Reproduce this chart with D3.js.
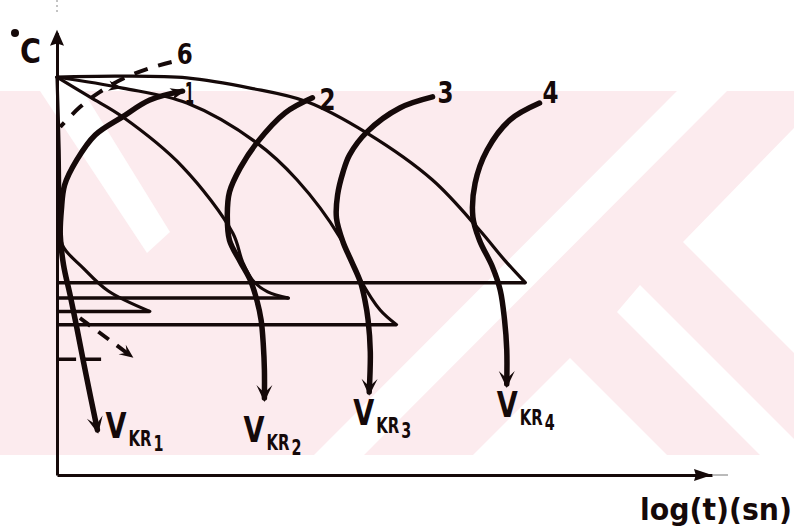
<!DOCTYPE html>
<html>
<head>
<meta charset="utf-8">
<script src="https://cdn.jsdelivr.net/npm/d3@7"></script>
<style>
  html, body { margin: 0; padding: 0; background: #ffffff; }
  svg { display: block; }
  text { font-family: "DejaVu Sans Condensed", "DejaVu Sans", sans-serif; font-weight: bold; fill: #150909; }
</style>
</head>
<body>
<svg id="chart" width="794" height="531"></svg>
<script>
// Axes: log(t) on x, temperature (°C) on y
const timeDomain = [0, 6];
const tempDomain = [0, 1000];

// Horizontal transformation lines: temperature and where each stops on the time axis
const lineTemps = [435, 400, 370, 340];
const lineEnds  = [4.29, 2.12, 0.85, 3.11];

// Cooling curves leaving the austenitising point, [log t, °C]
const cooling1 = [[0, 900], [0.58, 902], [1.19, 898], [1.77, 875], [2.29, 844], [2.84, 773], [3.44, 667], [3.87, 554], [4.10, 486], [4.29, 435]];
const cooling2 = [[0, 900], [0.60, 875], [1.19, 841], [1.83, 751], [2.20, 667], [2.59, 538], [2.78, 441], [2.96, 373], [3.11, 340]];
const cooling3 = [[0, 900], [0.30, 855], [0.60, 810], [1.15, 697], [1.61, 547], [1.70, 482], [1.79, 441], [1.93, 414], [2.12, 400]];
const cooling4 = [[0, 900], [0.02, 735], [0.03, 588], [0.05, 520], [0.24, 468], [0.47, 416], [0.85, 370]];

// Transformation start curves 1–4, each running down into its critical cooling rate arrow
const curve1 = [[1.15, 868], [0.85, 848], [0.60, 810], [0.35, 769], [0.18, 712], [0.07, 656], [0.04, 599], [0.03, 543], [0.06, 475], [0.12, 407], [0.18, 335], [0.27, 222], [0.37, 102]];
const curve2 = [[2.34, 853], [2.09, 819], [1.83, 751], [1.68, 695], [1.58, 640], [1.56, 588], [1.58, 531], [1.68, 482], [1.77, 441], [1.83, 396], [1.87, 350], [1.89, 294], [1.90, 237], [1.90, 174]];
const curve3 = [[3.44, 855], [3.14, 830], [2.84, 776], [2.68, 724], [2.62, 685], [2.57, 633], [2.56, 581], [2.62, 527], [2.70, 482], [2.78, 436], [2.82, 396], [2.85, 350], [2.87, 278], [2.86, 188]];
const curve4 = [[4.42, 841], [4.15, 803], [3.94, 735], [3.83, 660], [3.81, 583], [3.87, 531], [3.99, 470], [4.06, 418], [4.10, 350], [4.12, 283], [4.12, 206]];
const curveNames = ["1", "2", "3", "4"];
const rateNames = ["1", "2", "3", "4"];

// Dashed paths
const dashed6 = [[1.05, 934], [0.85, 920], [0.62, 898], [0.39, 866], [0.21, 832], [0.03, 787]];
const dashedDiag = [[0.21, 355], [0.70, 265]];
const dashedFlat = [[0.01, 262], [0.42, 262]];

const svg = d3.select("#chart");
const ink = "#150909";

const x = d3.scaleLinear().domain(timeDomain).range([57, 712]);
const y = d3.scaleLinear().domain(tempDomain).range([475, 32.8]);

// ---- background watermark band ----
const wm = svg.append("g");
wm.append("rect").attr("x", 0).attr("y", 91).attr("width", 794).attr("height", 364).attr("fill", "#fcebee");
const holes = [
  [[677, 91], [727, 91], [364, 455], [314, 455]],
  [[794, 128], [683, 242], [794, 353]],
  [[640, 285], [794, 439], [794, 455], [760, 455], [617, 312]],
  [[570, 358], [667, 455], [473, 455]],
  [[40, 91], [83, 91], [170, 232], [147, 253]]
];
wm.selectAll("polygon").data(holes).join("polygon")
  .attr("points", d => d.map(p => p.join(",")).join(" "))
  .attr("fill", "#ffffff");

const line = d3.line().x(d => x(d[0])).y(d => y(d[1])).curve(d3.curveCatmullRom.alpha(0.5));
const straight = d3.line().x(d => x(d[0])).y(d => y(d[1]));

function arrowHead(tip, from, len, half, notch) {
  const dx = tip[0] - from[0], dy = tip[1] - from[1];
  const L = Math.hypot(dx, dy), ux = dx / L, uy = dy / L;
  const nx = -uy, ny = ux;
  const bx = tip[0] - ux * len, by = tip[1] - uy * len;
  const mx = tip[0] - ux * len * notch, my = tip[1] - uy * len * notch;
  return `M${tip[0]},${tip[1]}L${bx + nx * half},${by + ny * half}L${mx},${my}L${bx - nx * half},${by - ny * half}Z`;
}
const px = d => [x(d[0]), y(d[1])];

// Condensed lettering: squeeze a text horizontally to the wanted width
function label(str, x0, y0, size, width) {
  const t = svg.append("text").attr("font-size", size).text(str);
  const w = t.node().getComputedTextLength();
  t.attr("transform", `translate(${x0},${y0}) scale(${width / w},1)`);
  return t;
}

// ---- axes ----
const yAxisScale = y.copy().domain([0, 1025]);
const gy = svg.append("g").attr("transform", `translate(${x(0)},0)`)
  .call(d3.axisLeft(yAxisScale).tickValues([]).tickSizeOuter(0));
const gx = svg.append("g").attr("transform", `translate(0,${y(0)})`)
  .call(d3.axisBottom(x).tickValues([]).tickSizeOuter(0));
[gx, gy].forEach(g => g.select(".domain").attr("stroke", ink).attr("stroke-width", 3));

svg.append("path").attr("d", arrowHead([x(0), yAxisScale(1025) - 3], [x(0), y(900)], 16, 7, 0.85)).attr("fill", ink);
svg.append("path").attr("d", arrowHead([x(6), y(0)], [x(5), y(0)], 18, 6, 0.9)).attr("fill", ink);
svg.append("line").attr("x1", x(6)).attr("x2", x(6) + 16).attr("y1", y(0)).attr("y2", y(0))
  .attr("stroke", "#777").attr("stroke-width", 1);
svg.append("line").attr("x1", x(0)).attr("x2", x(0)).attr("y1", 0).attr("y2", 15)
  .attr("stroke", "#888").attr("stroke-width", 1).attr("stroke-dasharray", "2,3");

// ---- horizontal lines ----
svg.append("g").selectAll("line").data(lineTemps).join("line")
  .attr("x1", x(0)).attr("x2", (d, i) => x(lineEnds[i]))
  .attr("y1", d => y(d)).attr("y2", d => y(d))
  .attr("stroke", ink).attr("stroke-width", 3.5);

// ---- cooling curves ----
svg.append("g").selectAll("path").data([cooling1, cooling2, cooling3, cooling4]).join("path")
  .attr("d", line).attr("fill", "none").attr("stroke", ink).attr("stroke-width", 3.2).attr("stroke-linecap", "round");

// ---- transformation curves with arrows ----
const curves = [curve1, curve2, curve3, curve4];
svg.append("g").selectAll("path").data(curves).join("path")
  .attr("d", line).attr("fill", "none").attr("stroke", ink).attr("stroke-width", 5.5).attr("stroke-linecap", "round");
curves.forEach(c => {
  const n = c.length;
  const a = px(c[n - 1]), b = px(c[n - 2]);
  const dx = a[0] - b[0], dy = a[1] - b[1], L = Math.hypot(dx, dy);
  const tip = [a[0] + dx / L * 4, a[1] + dy / L * 4];
  svg.append("path").attr("d", arrowHead(tip, b, 17, 8, 0.55)).attr("fill", ink);
});
// arrow at the top end of curve 1
{
  const a = px(curve1[0]), b = px(curve1[1]);
  svg.append("path").attr("d", arrowHead([a[0] + 3, a[1] - 1], b, 15, 6, 0.7)).attr("fill", ink);
}
// small direction mark on cooling curve 2
{
  const a = px(cooling2[1]), b = px(cooling2[0]);
  svg.append("path").attr("d", arrowHead(a, b, 14, 5, 0.7)).attr("fill", ink);
}

// ---- dashed paths ----
svg.append("path").attr("d", line(dashed6)).attr("fill", "none").attr("stroke", ink)
  .attr("stroke-width", 4).attr("stroke-dasharray", "14,11");
svg.append("path").attr("d", straight(dashedDiag)).attr("fill", "none").attr("stroke", ink)
  .attr("stroke-width", 4).attr("stroke-dasharray", "13,10");
svg.append("path").attr("d", arrowHead(px(dashedDiag[1]), px(dashedDiag[0]), 14, 6, 0.6)).attr("fill", ink);
svg.append("path").attr("d", straight(dashedFlat)).attr("fill", "none").attr("stroke", ink)
  .attr("stroke-width", 3.5).attr("stroke-dasharray", "18,7");

// ---- labels ----
svg.append("circle").attr("cx", 15).attr("cy", 33).attr("r", 4).attr("fill", ink);
label("C", 20, 63, 34, 21);

// curve numbers next to the upper ends
const numOffsets = [[8, 13], [7, 12], [5, 6], [3, 0]];
curves.forEach((c, i) => {
  const p = px(c[0]);
  if (i === 0) label(curveNames[i], 185, 104, 30, 9);
  else label(curveNames[i], p[0] + numOffsets[i][0], p[1] + numOffsets[i][1], 30, 16);
});
label("6", x(dashed6[0][0]) + 5, 64, 28, 16);

// critical cooling rate labels under the arrows: V, subscript KR and its index
const vOffsets = [[8, 8], [-21, 44], [-16, 33], [-10, 33]];
curves.forEach((c, i) => {
  const p = px(c[c.length - 1]);
  const vx = p[0] + vOffsets[i][0], vy = p[1] + vOffsets[i][1];
  label("V", vx, vy, 36, 21);
  label("KR", vx + 23, vy + 8, 22, 23);
  label(rateNames[i], vx + 48, vy + 13, 22, 10);
});

label("log(t)(sn)", 640, 520, 30, 152);
</script>
</body>
</html>
